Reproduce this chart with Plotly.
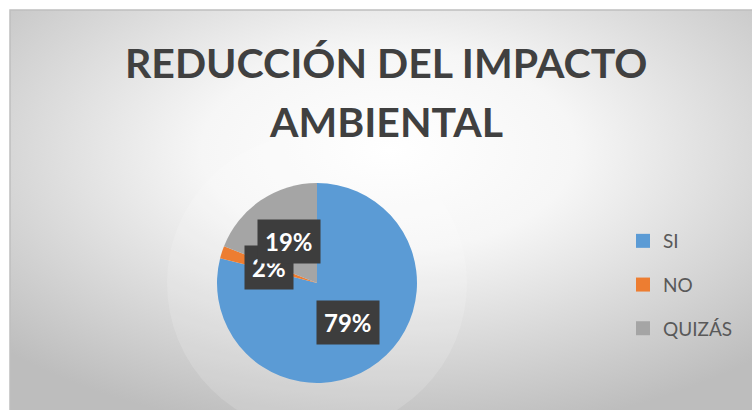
import base64
import math
import plotly.graph_objects as go

# ---- data ----
labels = ["SI", "NO", "QUIZÁS"]
values = [79, 2, 19]
colors = ["#5B9BD5", "#ED7D31", "#A5A5A5"]
title_lines = ["REDUCCIÓN DEL IMPACTO", "AMBIENTAL"]

W, H = 752, 410

# background gradient (chart area)
svg = (
    '<svg xmlns="http://www.w3.org/2000/svg" width="742" height="400" '
    'preserveAspectRatio="none" viewBox="0 0 742 400">'
    '<defs><radialGradient id="g" cx="0.51" cy="0.35" r="0.72">'
    '<stop offset="0" stop-color="#FFFFFF"/>'
    '<stop offset="0.35" stop-color="#F6F6F6"/>'
    '<stop offset="1" stop-color="#BDBDBD"/>'
    '</radialGradient></defs>'
    '<rect width="742" height="400" fill="url(#g)"/></svg>'
)
svg_uri = "data:image/svg+xml;base64," + base64.b64encode(svg.encode()).decode()

# pie placement (pixels)
pcx, pcy, pr = 317, 283, 100
dom_x = [(pcx - pr) / W, (pcx + pr) / W]
dom_y = [1 - (pcy + pr) / H, 1 - (pcy - pr) / H]

fig = go.Figure()
fig.add_trace(go.Pie(
    labels=labels, values=values, sort=False, direction="clockwise",
    rotation=0, textinfo="none", hoverinfo="label+percent",
    marker=dict(colors=colors, line=dict(width=0)),
    domain=dict(x=dom_x, y=dom_y), showlegend=False,
))

for lab, col in zip(labels, colors):
    fig.add_trace(go.Scatter(
        x=[None], y=[None], mode="markers", name=lab, legendgroup=lab,
        marker=dict(symbol="square", size=14, color=col),
    ))

# data labels positioned from slice mid-angles
total = sum(values)
cum = 0
label_ann = []
for lab, v in zip(labels, values):
    mid = (cum + v / 2) / total * 2 * math.pi
    cum += v
    rr = 0.5 * pr
    px = pcx + rr * math.sin(mid)
    py = pcy - rr * math.cos(mid)
    label_ann.append(dict(
        x=px / W, y=1 - py / H, xref="paper", yref="paper",
        text=f"<b>{round(v / total * 100)}%</b>", showarrow=False,
        font=dict(family="Lato", size=24, color="white"),
        bgcolor="#3D3D3D", borderpad=7, xanchor="center", yanchor="middle",
    ))

title_anns = []
for line, top in zip(title_lines, [36, 95]):
    title_anns.append(dict(
        text=f"<b>{line}</b>", x=386 / W, y=1 - top / H, xref="paper",
        yref="paper", xanchor="center", yanchor="top", showarrow=False,
        font=dict(family="Lato", size=41, color="#404040"),
    ))

# glow disc behind the pie
glow_r = 150
glow = dict(
    type="circle", xref="paper", yref="paper",
    x0=(pcx - glow_r) / W, x1=(pcx + glow_r) / W,
    y0=1 - (pcy + glow_r) / H, y1=1 - (pcy - glow_r) / H,
    fillcolor="rgba(255,255,255,0.15)", line=dict(width=0), layer="below",
)

fig.update_layout(
    width=W, height=H,
    margin=dict(l=0, r=0, t=0, b=0),
    paper_bgcolor="white", plot_bgcolor="rgba(0,0,0,0)",
    xaxis=dict(visible=False), yaxis=dict(visible=False),
    legend=dict(
        x=(643 - 20) / W, xanchor="left", y=1 - 222 / H, yanchor="top",
        font=dict(family="Lato", size=19, color="#595959"),
        traceorder="grouped", tracegroupgap=16, bgcolor="rgba(0,0,0,0)",
    ),
    images=[dict(
        source=svg_uri, xref="paper", yref="paper", x=10 / W, y=1 - 10 / H,
        sizex=(W - 10) / W, sizey=(H - 10) / H, sizing="stretch",
        xanchor="left", yanchor="top", layer="below",
    )],
    shapes=[
        glow,
        dict(
            type="rect", xref="paper", yref="paper", x0=10 / W, x1=1.01,
            y0=-0.01, y1=1 - 10 / H, line=dict(color="#BFBFBF", width=1.5),
            layer="below",
        ),
    ],
    annotations=title_anns + label_ann,
)

fig.write_html("out.html", config={"displayModeBar": False},
               post_script="document.body.style.margin='0';")
